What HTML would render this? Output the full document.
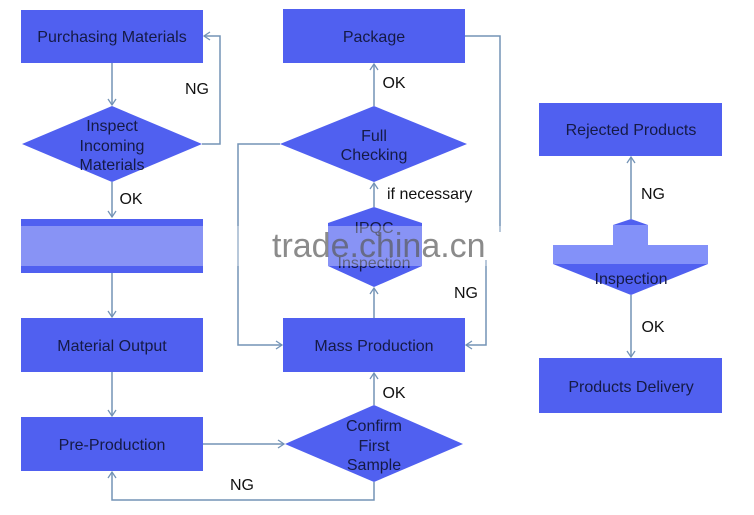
<!DOCTYPE html>
<html>
<head>
<meta charset="utf-8">
<style>
  html, body { margin:0; padding:0; background:#ffffff; }
  body { width:754px; height:515px; overflow:hidden; }
  svg { display:block; }
  .bt { font-family:"Liberation Sans", Arial, sans-serif; font-size:16px; fill:#151a45; text-anchor:middle; }
  .lb { font-family:"Liberation Sans", Arial, sans-serif; font-size:16px; fill:#111111; text-anchor:middle; }
  .ln { stroke:#7393b6; stroke-width:1.5; fill:none; }
</style>
</head>
<body>
<svg width="754" height="515" viewBox="0 0 754 515" xmlns="http://www.w3.org/2000/svg">
  <defs>
    <marker id="ar" markerWidth="10" markerHeight="10" refX="8" refY="5" orient="auto" markerUnits="userSpaceOnUse">
      <path d="M2,1 L8,5 L2,9" fill="none" stroke="#7393b6" stroke-width="1.3"/>
    </marker>
  </defs>

  <!-- connectors -->
  <line class="ln" x1="112" y1="63" x2="112" y2="105" marker-end="url(#ar)"/>
  <line class="ln" x1="112" y1="182" x2="112" y2="217" marker-end="url(#ar)"/>
  <polyline class="ln" points="202,144 220,144 220,36 204,36" marker-end="url(#ar)"/>
  <line class="ln" x1="112" y1="272" x2="112" y2="317" marker-end="url(#ar)"/>
  <line class="ln" x1="112" y1="372" x2="112" y2="416" marker-end="url(#ar)"/>
  <line class="ln" x1="203" y1="444" x2="284" y2="444" marker-end="url(#ar)"/>
  <polyline class="ln" points="374,482 374,500 112,500 112,472" marker-end="url(#ar)"/>
  <line class="ln" x1="374" y1="405" x2="374" y2="373" marker-end="url(#ar)"/>
  <line class="ln" x1="374" y1="318" x2="374" y2="288" marker-end="url(#ar)"/>
  <line class="ln" x1="374" y1="207" x2="374" y2="183" marker-end="url(#ar)"/>
  <line class="ln" x1="374" y1="106" x2="374" y2="64" marker-end="url(#ar)"/>
  <polyline class="ln" points="280,144 238,144 238,345 282,345" marker-end="url(#ar)"/>
  <polyline class="ln" points="465,36 500,36 500,232"/>
  <polyline class="ln" points="486,260 486,345 466,345" marker-end="url(#ar)"/>
  <line class="ln" x1="631" y1="219" x2="631" y2="157" marker-end="url(#ar)"/>
  <line class="ln" x1="631" y1="295" x2="631" y2="357" marker-end="url(#ar)"/>

  <!-- left column -->
  <rect x="21" y="10" width="182" height="53" fill="#5060f0"/>
  <text class="bt" x="112" y="42">Purchasing Materials</text>

  <polygon points="112,106 202,144 112,182 22,144" fill="#5060f0"/>
  <text class="bt" x="112" y="131">Inspect</text>
  <text class="bt" x="112" y="151">Incoming</text>
  <text class="bt" x="112" y="170">Materials</text>

  <rect x="21" y="219" width="182" height="54" fill="#5060f0"/>

  <rect x="21" y="318" width="182" height="54" fill="#5060f0"/>
  <text class="bt" x="112" y="351">Material Output</text>

  <rect x="21" y="417" width="182" height="54" fill="#5060f0"/>
  <text class="bt" x="112" y="450">Pre-Production</text>

  <!-- middle column -->
  <rect x="283" y="9" width="182" height="54" fill="#5060f0"/>
  <text class="bt" x="374" y="42">Package</text>

  <polygon points="374,106 467,144 374,182 280,144" fill="#5060f0"/>
  <text class="bt" x="374" y="141">Full</text>
  <text class="bt" x="374" y="160">Checking</text>

  <polygon points="374,207 422,223 422,266 374,287 328,266 328,223" fill="#5060f0"/>
  <text class="bt" x="374" y="233">IPQC</text>
  <text class="bt" x="374" y="268">Inspection</text>

  <rect x="283" y="318" width="182" height="54" fill="#5060f0"/>
  <text class="bt" x="374" y="351">Mass Production</text>

  <polygon points="374,405 463,444 374,482 285,444" fill="#5060f0"/>
  <text class="bt" x="374" y="431">Confirm</text>
  <text class="bt" x="374" y="451">First</text>
  <text class="bt" x="374" y="470">Sample</text>

  <!-- right column -->
  <rect x="539" y="103" width="183" height="53" fill="#5060f0"/>
  <text class="bt" x="631" y="135">Rejected Products</text>

  <polygon points="631,219 648,225 613,225" fill="#5060f0"/>
  <rect x="613" y="225" width="35" height="20" fill="#8391f9"/>
  <rect x="553" y="245" width="155" height="19" fill="#8391f9"/>
  <polygon points="553,264 708,264 631,295" fill="#5060f0"/>
  <text class="bt" x="631" y="284">Inspection</text>

  <rect x="539" y="358" width="183" height="55" fill="#5060f0"/>
  <text class="bt" x="631" y="392">Products Delivery</text>

  <!-- watermark band -->
  <rect x="0" y="226" width="520" height="40" fill="#ffffff" fill-opacity="0.32"/>
  <text x="272" y="257" font-family="'Liberation Sans', Arial, sans-serif" font-size="34" fill="#5a5a5a" fill-opacity="0.7">trade.china.cn</text>

  <!-- labels -->
  <text class="lb" x="197" y="94">NG</text>
  <text class="lb" x="131" y="204">OK</text>
  <text class="lb" x="394" y="88">OK</text>
  <text class="lb" x="387" y="199" style="text-anchor:start">if necessary</text>
  <text class="lb" x="466" y="298">NG</text>
  <text class="lb" x="394" y="398">OK</text>
  <text class="lb" x="242" y="490">NG</text>
  <text class="lb" x="653" y="199">NG</text>
  <text class="lb" x="653" y="332">OK</text>
</svg>
</body>
</html>
